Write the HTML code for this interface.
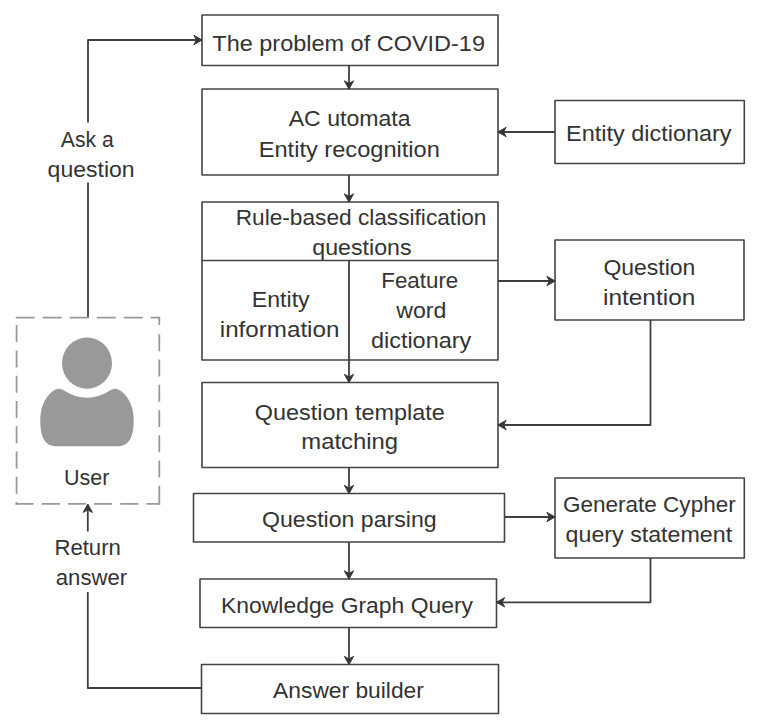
<!DOCTYPE html>
<html><head><meta charset="utf-8">
<style>
html,body{margin:0;padding:0;background:#fff;}
body{width:763px;height:728px;overflow:hidden;}
svg{display:block;}
text{font-family:"Liberation Sans",sans-serif;font-size:22.6px;fill:#333;}
</style></head><body>
<svg width="763" height="728" viewBox="0 0 763 728">
<defs>
<marker id="ah" markerUnits="userSpaceOnUse" markerWidth="13" markerHeight="13" refX="10" refY="6" orient="auto">
<path d="M10.2 6 L1.8 1.3 L4.4 6 L1.8 10.7 Z" fill="#363636" stroke="#363636" stroke-width="0.9" stroke-linejoin="miter"/>
</marker>
</defs>
<g fill="none" stroke="#444" stroke-width="1.6" stroke-linejoin="round">
<rect x="202" y="15" width="296" height="50.5"/>
<rect x="202" y="89" width="296" height="86"/>
<rect x="202" y="202" width="296" height="158"/>
<line x1="202" y1="260.5" x2="498" y2="260.5"/>
<rect x="202" y="382.5" width="296" height="85"/>
<rect x="193.5" y="493.5" width="311" height="48.5"/>
<rect x="200" y="579" width="296.5" height="48.5"/>
<rect x="201.5" y="664.5" width="297" height="49"/>
<rect x="555" y="100.5" width="189.3" height="63"/>
<rect x="555" y="240" width="189" height="80"/>
<rect x="555" y="478" width="189.3" height="80"/>
</g>
<g fill="none" stroke="#3f3f3f" stroke-width="1.8" stroke-linejoin="round">
<line x1="349" y1="65.5" x2="349" y2="89" marker-end="url(#ah)"/>
<line x1="349" y1="175" x2="349" y2="202" marker-end="url(#ah)"/>
<line x1="349" y1="260.5" x2="349" y2="382.5" marker-end="url(#ah)"/>
<line x1="349" y1="467.5" x2="349" y2="493.5" marker-end="url(#ah)"/>
<line x1="349" y1="542" x2="349" y2="579" marker-end="url(#ah)"/>
<line x1="349" y1="627.5" x2="349" y2="664.5" marker-end="url(#ah)"/>
<line x1="555" y1="132" x2="498" y2="132" marker-end="url(#ah)"/>
<line x1="498" y1="281" x2="555" y2="281" marker-end="url(#ah)"/>
<polyline points="650.5,320 650.5,425 498,425" marker-end="url(#ah)"/>
<line x1="504.5" y1="517" x2="555" y2="517" marker-end="url(#ah)"/>
<polyline points="650.5,558 650.5,602.3 496.5,602.3" marker-end="url(#ah)"/>
<polyline points="88,122.6 88,40 202,40" marker-end="url(#ah)"/>
<line x1="88" y1="317.7" x2="88" y2="182.6"/>
<line x1="87.8" y1="531.5" x2="87.8" y2="504.3" marker-end="url(#ah)"/>
<polyline points="201.5,688 87.8,688 87.8,592"/>
</g>
<g fill="none" stroke="#999" stroke-width="1.8">
<line x1="15.7" y1="317.7" x2="160.2" y2="317.7" stroke-dasharray="19 8"/>
<line x1="159.3" y1="316.8" x2="159.3" y2="504.8" stroke-dasharray="8.3 9.1 17 8.26 17 8.26 17 8.26 17 8.26 17 8.26 17 8.26 19.5 5"/>
<line x1="15.5" y1="503.9" x2="160.2" y2="503.9" stroke-dasharray="18 8.2"/>
<line x1="16.6" y1="325.1" x2="16.6" y2="504.8" stroke-dasharray="17 8.28"/>
</g>
<g fill="#999">
<ellipse cx="87" cy="363.2" rx="25" ry="25.6"/>
<path d="M64 390.5 Q87 405 110 390.5 C112.5 388.5 116 388 118.5 389.5 C127 394 133.7 405 133.7 420 C133.7 436 130 446.3 117 446.3 L57 446.3 C44 446.3 40.3 436 40.3 420 C40.3 405 47 394 55.5 389.5 C58 388 61.5 388.5 64 390.5 Z"/>
</g>
<g>
<text x="212.30" y="50.60" textLength="272.70" lengthAdjust="spacingAndGlyphs">The problem of COVID-19</text>
<text x="288.70" y="126.30" textLength="121.90" lengthAdjust="spacingAndGlyphs">AC utomata</text>
<text x="258.70" y="156.80" textLength="181.20" lengthAdjust="spacingAndGlyphs">Entity recognition</text>
<text x="235.70" y="224.60" textLength="250.70" lengthAdjust="spacingAndGlyphs">Rule-based classification</text>
<text x="312.30" y="254.50" textLength="99.20" lengthAdjust="spacingAndGlyphs">questions</text>
<text x="251.80" y="307.00" textLength="57.90" lengthAdjust="spacingAndGlyphs">Entity</text>
<text x="219.80" y="336.90" textLength="119.60" lengthAdjust="spacingAndGlyphs">information</text>
<text x="381.30" y="287.80" textLength="77.00" lengthAdjust="spacingAndGlyphs">Feature</text>
<text x="396.20" y="317.70" textLength="50.20" lengthAdjust="spacingAndGlyphs">word</text>
<text x="370.90" y="347.50" textLength="100.40" lengthAdjust="spacingAndGlyphs">dictionary</text>
<text x="254.80" y="419.60" textLength="190.00" lengthAdjust="spacingAndGlyphs">Question template</text>
<text x="301.30" y="449.00" textLength="96.80" lengthAdjust="spacingAndGlyphs">matching</text>
<text x="262.00" y="527.00" textLength="174.60" lengthAdjust="spacingAndGlyphs">Question parsing</text>
<text x="221.10" y="612.50" textLength="251.90" lengthAdjust="spacingAndGlyphs">Knowledge Graph Query</text>
<text x="273.10" y="697.80" textLength="150.80" lengthAdjust="spacingAndGlyphs">Answer builder</text>
<text x="566.00" y="140.50" textLength="165.60" lengthAdjust="spacingAndGlyphs">Entity dictionary</text>
<text x="603.40" y="274.70" textLength="92.00" lengthAdjust="spacingAndGlyphs">Question</text>
<text x="603.00" y="305.10" textLength="92.30" lengthAdjust="spacingAndGlyphs">intention</text>
<text x="563.00" y="511.50" textLength="172.70" lengthAdjust="spacingAndGlyphs">Generate Cypher</text>
<text x="565.60" y="541.60" textLength="166.50" lengthAdjust="spacingAndGlyphs">query statement</text>
<text x="60.80" y="146.90" textLength="53.00" lengthAdjust="spacingAndGlyphs">Ask a</text>
<text x="47.60" y="177.00" textLength="87.00" lengthAdjust="spacingAndGlyphs">question</text>
<text x="64.00" y="484.70" textLength="45.40" lengthAdjust="spacingAndGlyphs">User</text>
<text x="54.40" y="555.40" textLength="66.50" lengthAdjust="spacingAndGlyphs">Return</text>
<text x="55.80" y="585.10" textLength="71.40" lengthAdjust="spacingAndGlyphs">answer</text>
</g>
</svg>
</body></html>
